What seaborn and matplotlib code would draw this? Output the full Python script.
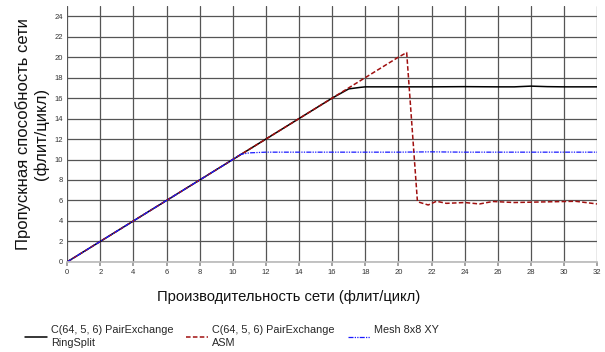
import numpy as np
import pandas as pd
import seaborn as sns
import matplotlib.pyplot as plt

# Data
ring_x = [0, 2, 4, 6, 8, 10, 12, 14, 16, 17, 17.7, 18, 20, 22, 24, 26, 27, 28, 29, 30, 32]
ring_y = [0, 2, 4, 6, 8, 10, 12, 14, 16, 16.9, 17.05, 17.1, 17.1, 17.1, 17.12, 17.1, 17.1, 17.17, 17.12, 17.1, 17.1]

asm_x = [0, 2, 4, 6, 8, 10, 12, 14, 16, 18, 20, 20.5, 21.15, 21.8, 22.3, 22.9, 24, 24.9, 25.7, 27, 28.5, 30.7, 32]
asm_y = [0, 2, 4, 6, 8, 10, 12, 14, 16, 18, 20, 20.45, 5.88, 5.56, 5.92, 5.72, 5.8, 5.66, 5.9, 5.8, 5.85, 5.92, 5.66]

mesh_x = [0, 2, 4, 6, 8, 10, 10.45, 11, 12, 14, 16, 18, 20, 22, 24, 26, 28, 30, 32]
mesh_y = [0, 2, 4, 6, 8, 10, 10.5, 10.65, 10.72, 10.72, 10.72, 10.72, 10.72, 10.75, 10.72, 10.72, 10.72, 10.72, 10.72]

labels = ["C(64, 5, 6) PairExchange\nRingSplit",
          "C(64, 5, 6) PairExchange\nASM",
          "Mesh 8x8 XY\n "]

sns.set_theme(style="white")
plt.rcParams['font.family'] = ['Liberation Sans', 'DejaVu Sans']

fig = plt.figure(figsize=(6.05, 3.52), dpi=100)
ax = fig.add_axes([0.111, 0.256, 0.876, 0.727])

sns.lineplot(x=ring_x, y=ring_y, ax=ax, color="black", linewidth=1.1, label=labels[0])
sns.lineplot(x=asm_x, y=asm_y, ax=ax, color="#a01010", linewidth=1.1, linestyle=(0, (3, 1.5)), label=labels[1])
sns.lineplot(x=mesh_x, y=mesh_y, ax=ax, color="#1a1aff", linewidth=0.9, linestyle=(0, (4, 1, 1, 1, 1, 1)), label=labels[2])

ax.set_xlim(0, 32)
ax.set_ylim(0, 25)
ax.set_xticks(np.arange(0, 33, 2))
ax.set_yticks(np.arange(0, 25, 2))
ax.grid(True, color="#555555", linewidth=0.9)
ax.set_axisbelow(True)
for s in ["top", "right", "left"]:
    ax.spines[s].set_visible(False)
ax.spines["bottom"].set_color("#bbbbbb")
ax.tick_params(axis="both", labelsize=5.5, colors="#333333", pad=2)
ax.tick_params(axis="y", left=False, length=0, pad=3)
ax.tick_params(axis="x", bottom=True, length=3, color="#999999")

ax.set_xlabel("Производительность сети (флит/цикл)", fontsize=10.6, color="#111111")
ax.xaxis.set_label_coords(0.417, -0.11)
ax.set_ylabel("Пропускная способность сети\n(флит/цикл)", fontsize=12, labelpad=4, color="#111111")

ax.get_legend().remove()
handles, labs = ax.get_legend_handles_labels()
fig.legend(handles, labs, loc="lower left", bbox_to_anchor=(0.025, -0.015), ncol=3,
           frameon=False, handlelength=2.0, columnspacing=1.2,
           handletextpad=0.4, labelspacing=0.3, prop={"size": 7.8})
for t in fig.legends[0].get_texts():
    t.set_linespacing(1.3)

fig.savefig("out.png", dpi=100)
